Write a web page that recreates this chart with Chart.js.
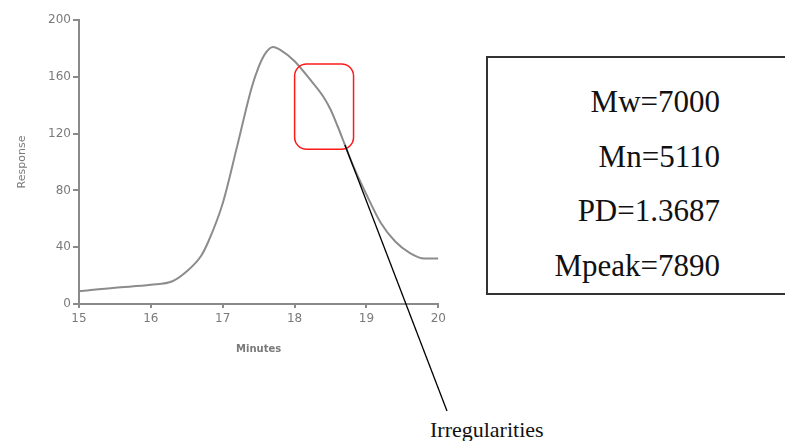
<!DOCTYPE html>
<html>
<head>
<meta charset="utf-8">
<script src="https://cdn.jsdelivr.net/npm/chart.js@4.4.1/dist/chart.umd.min.js"></script>
<style>
  body { margin: 0; background: #fff; width: 785px; height: 441px; overflow: hidden; position: relative; }
  #chartBox { position: absolute; left: 0; top: 0; width: 450px; height: 365px; }
  #statsBox {
    position: absolute; left: 486px; top: 56px; width: 320px; height: 239px;
    border: 2px solid #333; box-sizing: border-box;
    font-family: "Liberation Serif", "Times New Roman", serif; font-size: 31px; color: #111;
  }
  #statsBox div { position: absolute; right: 84px; line-height: 30px; }
  #irregular {
    position: absolute; left: 430px; top: 419px;
    font-family: "Liberation Serif", "Times New Roman", serif; font-size: 22px; color: #111;
    line-height: 22px;
  }
</style>
</head>
<body>
<div id="chartBox"><canvas id="gpcChart"></canvas></div>
<div id="statsBox">
  <div style="top:29px">Mw=7000</div>
  <div style="top:84px">Mn=5110</div>
  <div style="top:138px">PD=1.3687</div>
  <div style="top:193px">Mpeak=7890</div>
</div>
<div id="irregular">Irregularities</div>
<script>
// Chromatogram data (minutes vs response)
const minutes = [15, 15.5, 16, 16.3, 16.5, 16.7, 16.8, 17, 17.2, 17.4, 17.5, 17.6, 17.7, 17.8, 18, 18.2, 18.4, 18.5, 18.6, 18.7, 18.8, 19, 19.2, 19.4, 19.6, 19.8, 20];
const response = [9, 11.5, 13.5, 16, 23, 34, 44, 71, 111, 152, 167, 177, 181, 179, 171, 159, 146, 137, 125, 112, 99, 77, 57, 44, 36, 32, 32];
const xTicks = [15, 16, 17, 18, 19, 20];
const yTicks = [0, 40, 80, 120, 160, 200];

// Marked region and pointer anchor
const markedRegion = { x0: 18.0, x1: 18.82, y0: 109, y1: 169 };
const pointerAnchor = { x: 18.7, y: 112 };
const pointerEnd = { px: 447, py: 411 };

const points = minutes.map((m, i) => ({ x: m, y: response[i] }));

const annotationPlugin = {
    id: 'irregularities',
    afterDatasetsDraw(chart) {
        const ctx = chart.ctx;
        const xs = chart.scales.x;
        const ys = chart.scales.y;
        ctx.save();
        // red rounded box
        const left = xs.getPixelForValue(markedRegion.x0);
        const right = xs.getPixelForValue(markedRegion.x1);
        const top = ys.getPixelForValue(markedRegion.y1);
        const bottom = ys.getPixelForValue(markedRegion.y0);
        ctx.strokeStyle = '#ff1a1a';
        ctx.lineWidth = 1.5;
        ctx.beginPath();
        ctx.roundRect(left, top, right - left, bottom - top, 12);
        ctx.stroke();
        ctx.restore();
    }
};

// pointer line drawn on an overlay so it can leave the chart canvas
const pointerPlugin = {
    id: 'pointer',
    afterDraw(chart) {
        const overlay = document.getElementById('pointerLayer');
        const octx = overlay.getContext('2d');
        octx.clearRect(0, 0, overlay.width, overlay.height);
        const sx = chart.scales.x.getPixelForValue(pointerAnchor.x);
        const sy = chart.scales.y.getPixelForValue(pointerAnchor.y);
        octx.strokeStyle = '#000';
        octx.lineWidth = 1.3;
        octx.beginPath();
        octx.moveTo(sx, sy);
        octx.lineTo(pointerEnd.px, pointerEnd.py);
        octx.stroke();
    }
};

const overlay = document.createElement('canvas');
overlay.id = 'pointerLayer';
overlay.width = 785;
overlay.height = 441;
overlay.style.position = 'absolute';
overlay.style.left = '0';
overlay.style.top = '0';
overlay.style.pointerEvents = 'none';
document.body.appendChild(overlay);

const axisColor = '#8a8a8a';
const tickFont = { family: 'DejaVu Sans', size: 12 };

new Chart(document.getElementById('gpcChart'), {
    type: 'line',
    data: {
        datasets: [{
            data: points,
            borderColor: '#8c8c8c',
            borderWidth: 2,
            pointRadius: 0,
            cubicInterpolationMode: 'monotone',
            fill: false
        }]
    },
    options: {
        responsive: true,
        maintainAspectRatio: false,
        animation: false,
        layout: { padding: { left: 12, top: 20, right: 11, bottom: 6 } },
        plugins: { legend: { display: false }, tooltip: { enabled: false } },
        scales: {
            x: {
                type: 'linear',
                min: 15,
                max: 20,
                afterBuildTicks: scale => { scale.ticks = xTicks.map(v => ({ value: v })); },
                afterFit: scale => { scale.height = 55; },
                grid: { drawOnChartArea: false, drawTicks: true, tickLength: 4, color: axisColor, lineWidth: 2 },
                border: { display: true, color: axisColor, width: 2 },
                ticks: { color: '#7a7a7a', font: tickFont, padding: 4, maxRotation: 0 },
                title: { display: true, text: 'Minutes', color: '#7a7a7a', font: { family: 'DejaVu Sans', size: 10, weight: 'bold' }, padding: { top: 6 } }
            },
            y: {
                type: 'linear',
                min: 0,
                max: 200,
                afterBuildTicks: scale => { scale.ticks = yTicks.map(v => ({ value: v })); },
                afterFit: scale => { scale.width = 67; },
                grid: { drawOnChartArea: false, drawTicks: true, tickLength: 6, color: axisColor, lineWidth: 2 },
                border: { display: true, color: axisColor, width: 2 },
                ticks: { color: '#7a7a7a', font: tickFont, padding: 2 },
                title: { display: true, text: 'Response', color: '#7a7a7a', font: { family: 'DejaVu Sans', size: 11 }, padding: { bottom: 12 } }
            }
        }
    },
    plugins: [annotationPlugin, pointerPlugin]
});
</script>
</body>
</html>
